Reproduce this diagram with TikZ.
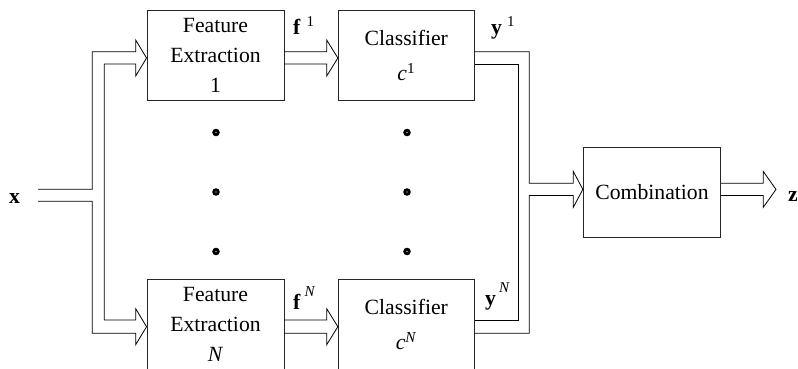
\documentclass[tikz,border=0pt]{standalone}
\usepackage{fontspec}
\IfFontExistsTF{LiberationSerif-Regular.ttf}{%
  \setmainfont{LiberationSerif}[Extension=.ttf, UprightFont=*-Regular, BoldFont=*-Bold,
    ItalicFont=*-Italic, BoldItalicFont=*-BoldItalic]}{%
  \setmainfont{Liberation Serif}}
\usetikzlibrary{calc}
\newcommand\boxfont{\fontsize{21.7}{30.3}\selectfont}
\newcommand\supfont{\fontsize{15}{15}\selectfont}
\begin{document}
\begin{tikzpicture}[x=1pt,y=-1pt,
  blk/.style={draw=black!85, line width=0.9pt, minimum width=137pt, minimum height=89.3pt,
              inner sep=0pt, align=center, font=\boxfont},
  conn/.style={draw=black, line width=0.8pt, line join=miter},
  lbl/.style={inner sep=0pt, anchor=base west, font=\boxfont},
  dotmark/.style={circle, fill=black, minimum size=7.6pt, inner sep=0pt,
    path picture={\fill[white] (path picture bounding box.center) circle (0.7pt);}}]
\useasboundingbox (0,0) rectangle (798,368);

% blocks
\node[blk] (fe1) at (215.5,55.5) {Feature\\Extraction\\1};
\node[blk] (feN) at (215.5,324.5) {Feature\\Extraction\\\textit{N}};
\node[blk, minimum width=136pt] (cl1) at (406.3,55.5) {Classifier\\[5pt]\textit{c}\textsuperscript{1}};
\node[blk, minimum width=136pt] (clN) at (406.3,324.5) {Classifier\\[5pt]\textit{c}\textsuperscript{\textit{N}}};
\node[blk, minimum width=137.4pt] (comb) at (652,192.5) {Combination};

% dots
\node[dotmark] (d1) at (216,132.5) {};
\node[dotmark] (d2) at (216,192) {};
\node[dotmark] (d3) at (216,251.5) {};
\node[dotmark] (d4) at (407,132.5) {};
\node[dotmark] (d5) at (407,192) {};
\node[dotmark] (d6) at (407,251.5) {};

% labels
\node[lbl] (xl) at (9,203) {\textbf{x}};
\node[lbl] (zl) at (788,201) {\textbf{z}};
\node[lbl] (f1) at (293,34) {\textbf{f}\hspace{6pt}\raisebox{8pt}{\supfont 1}};
\node[lbl] (fN) at (293,309) {\textbf{f}\hspace{4pt}\raisebox{13pt}{\supfont\itshape N}};
\node[lbl] (y1) at (491,34) {\textbf{y}\hspace{5pt}\raisebox{8pt}{\supfont 1}};
\node[lbl] (yN) at (485,305) {\textbf{y}\hspace{3pt}\raisebox{13pt}{\supfont\itshape N}};

% input split
\coordinate (xu) at (38,189.3);
\coordinate (xd) at (38,201.3);
\draw[conn] (xu) -- (92.3,189.3) -- (92.3,51.7) -- (135.7,51.7) -- (135.7,40)
  -- (fe1.west |- 0,58) -- (135.7,76) -- (135.7,64) -- (104.3,64) -- (104.3,320)
  -- (135.7,320) -- (135.7,308.7) -- (feN.west |- 0,326.7) -- (135.7,344.7)
  -- (135.7,333.3) -- (92.3,333.3) -- (92.3,201.3) -- (xd);

% feature -> classifier
\draw[conn] (fe1.east |- 0,51.7) -- (326.7,51.7) -- (326.7,40) -- (cl1.west |- 0,58)
  -- (326.7,76) -- (326.7,64) -- (fe1.east |- 0,64);
\draw[conn] (feN.east |- 0,320) -- (326.7,320) -- (326.7,308.7) -- (clN.west |- 0,326.7)
  -- (326.7,344.7) -- (326.7,333.3) -- (feN.east |- 0,333.3);

% classifiers -> combination
\draw[conn] (cl1.east |- 0,51.7) -- (529.3,51.7) -- (529.3,183.3) -- (573.3,183.3)
  -- (573.3,171.5) -- (comb.west |- 0,189.4) -- (573.3,207.3) -- (573.3,195.5)
  -- (529.3,195.5) -- (529.3,333.3) -- (clN.east |- 0,333.3);
\draw[conn] (cl1.east |- 0,64) -- (518.3,64) -- (518.3,320) -- (clN.east |- 0,320);

% combination -> output
\draw[conn] (comb.east |- 0,183.3) -- (763.3,183.3) -- (763.3,171.5) -- (776,189.4)
  -- (763.3,207.3) -- (763.3,195.5) -- (comb.east |- 0,195.5);
\end{tikzpicture}
\end{document}
